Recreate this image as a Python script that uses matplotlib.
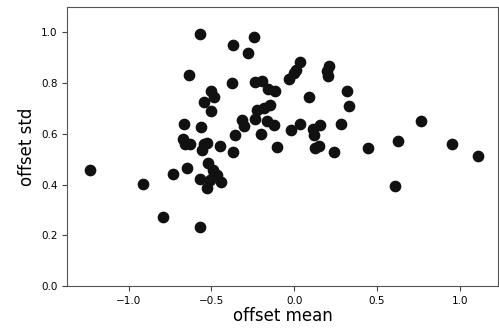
import matplotlib
matplotlib.use("Agg")
import matplotlib.pyplot as plt

# per-sample offset statistics
offset_mean = [
    -0.572, -0.246, -0.370, -0.282, -0.633, -0.379, -0.240, -0.195, -0.161, -0.115,
    -0.503, -0.483, -0.544, -0.502, -0.225, -0.185, -0.145, -0.236, -0.665, -0.564,
    -0.316, -0.302, -0.165, -0.125, -0.199, -0.356, -0.669, -0.659, -0.628, -0.548,
    -0.528, -0.558, -0.447, -0.370, -0.105, 0.036, 0.012, -0.004, -0.034, 0.207,
    0.198, 0.201, 0.318, 0.091, 0.328, 0.036, -0.020, 0.153, 0.113, 0.121,
    0.284, 0.767, 0.123, 0.147, 0.238, 0.445, 0.626, 0.953, 1.110, -1.233,
    -0.914, -0.733, -0.645, -0.518, -0.491, -0.483, -0.467, -0.572, -0.508, -0.443,
    -0.528, -0.793, -0.568, 0.610,
]
offset_std = [
    0.995, 0.980, 0.950, 0.920, 0.830, 0.800, 0.805, 0.810, 0.778, 0.768,
    0.770, 0.745, 0.725, 0.690, 0.693, 0.703, 0.713, 0.660, 0.637, 0.627,
    0.653, 0.630, 0.650, 0.633, 0.598, 0.594, 0.581, 0.558, 0.558, 0.558,
    0.563, 0.537, 0.552, 0.528, 0.548, 0.884, 0.851, 0.838, 0.818, 0.867,
    0.848, 0.827, 0.768, 0.745, 0.708, 0.640, 0.614, 0.633, 0.620, 0.594,
    0.637, 0.650, 0.544, 0.552, 0.528, 0.544, 0.571, 0.558, 0.511, 0.458,
    0.403, 0.440, 0.465, 0.484, 0.458, 0.442, 0.436, 0.423, 0.419, 0.412,
    0.386, 0.274, 0.234, 0.396,
]

fig = plt.figure(figsize=(4.99, 3.33), dpi=100)
ax = fig.add_axes([0.135, 0.141, 0.863, 0.838])
ax.scatter(offset_mean, offset_std, s=55, color="#111111")
ax.set_xlim(-1.37, 1.23)
ax.set_ylim(0, 1.1)
ax.set_xlabel("offset mean", fontsize=12, labelpad=1)
ax.set_ylabel("offset std", fontsize=12)
ax.tick_params(labelsize=7.5, length=3.5, color="#444444")
for sp in ax.spines.values():
    sp.set_color("#555555")

fig.savefig("out.png", dpi=100)
